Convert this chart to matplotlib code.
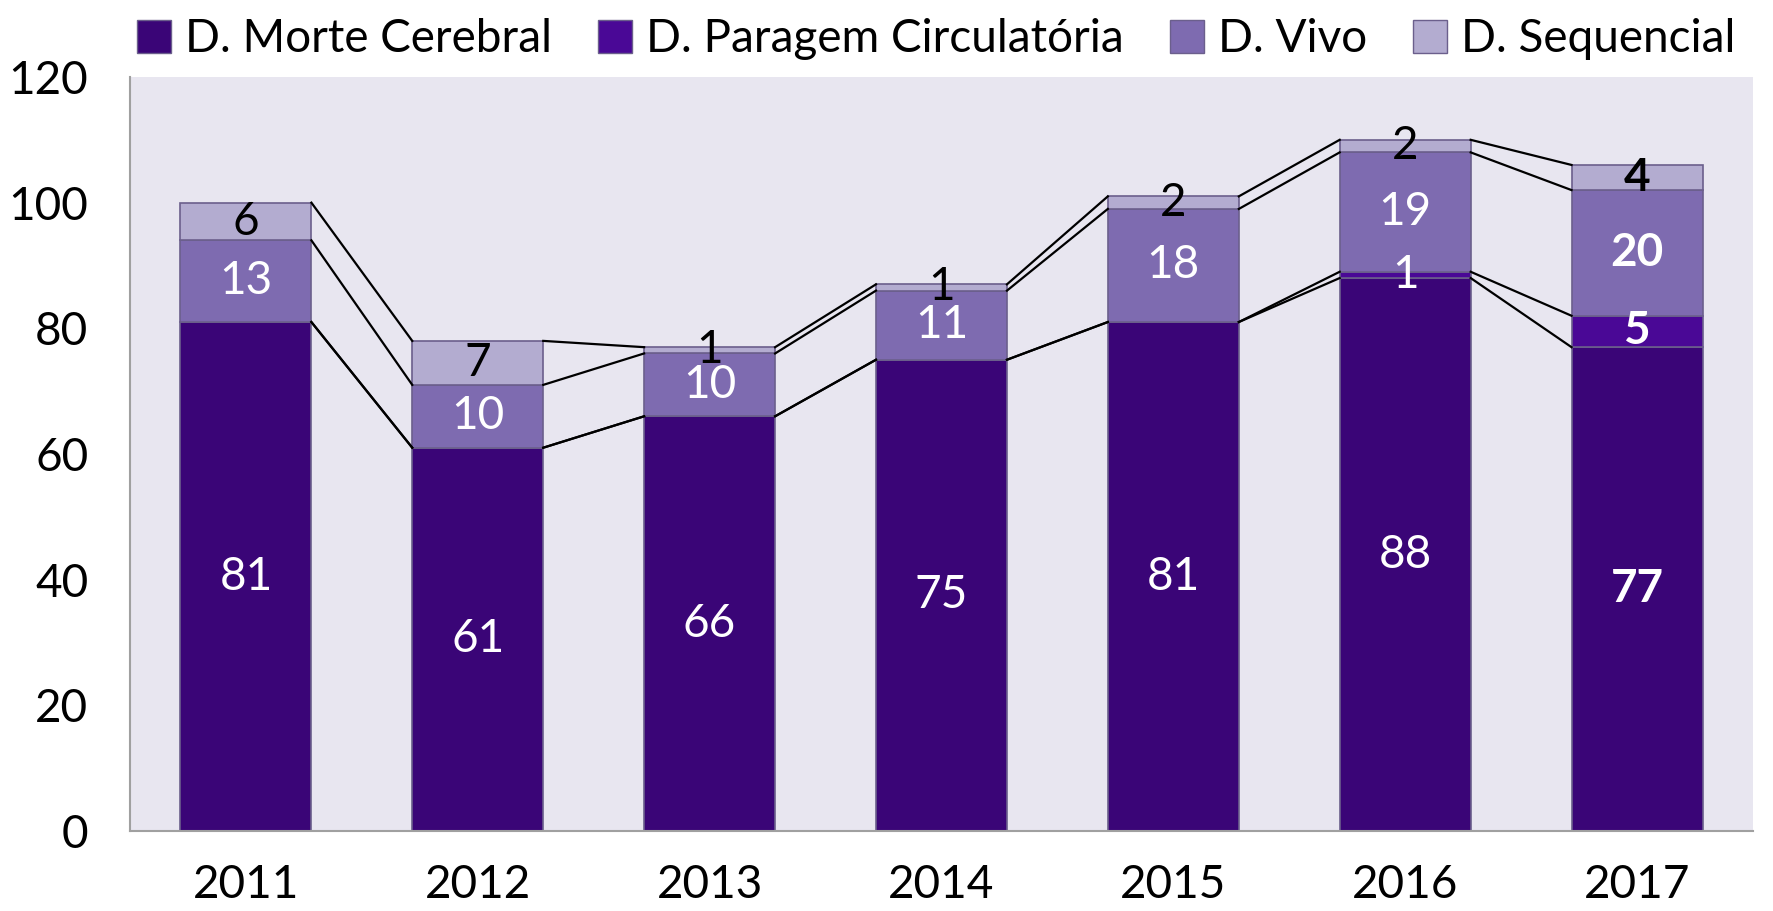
import matplotlib.pyplot as plt
import numpy as np
from matplotlib.patches import Patch

plt.rcParams['font.family'] = ['Lato', 'DejaVu Sans']

# data
years = ['2011', '2012', '2013', '2014', '2015', '2016', '2017']
morte_cerebral = [81, 61, 66, 75, 81, 88, 77]
paragem_circ = [0, 0, 0, 0, 0, 1, 5]
vivo = [13, 10, 10, 11, 18, 19, 20]
sequencial = [6, 7, 1, 1, 2, 2, 4]

series_names = ['D. Morte Cerebral', 'D. Paragem Circulatória', 'D. Vivo', 'D. Sequencial']
colors = ['#3a0577', '#4a0896', '#7e6bb0', '#b3acd0']
label_colors = ['white', 'white', 'white', 'black']

fig = plt.figure(figsize=(17.73, 9.11), dpi=100)
ax = fig.add_axes([0.0733, 0.0878, 0.9154, 0.8277])
ax.set_facecolor('#e8e6f0')

x = np.arange(len(years))
width = 0.565
data = [morte_cerebral, paragem_circ, vivo, sequencial]
bottom = np.zeros(len(years))
tops = []
for vals, c, lc in zip(data, colors, label_colors):
    vals = np.array(vals, dtype=float)
    ax.bar(x, vals, width, bottom=bottom, color=c, edgecolor='#6b5f8c',
           linewidth=1.2, zorder=2)
    for i, v in enumerate(vals):
        if v > 0:
            bold = 'bold' if years[i] == '2017' else 'normal'
            ax.text(x[i], bottom[i] + v / 2, '%d' % v, ha='center', va='center',
                    color=lc, fontsize=33, fontweight=bold, zorder=4)
    bottom = bottom + vals
    tops.append(bottom.copy())

# series lines between bars
for t in tops:
    for i in range(len(years) - 1):
        ax.plot([x[i] + width / 2, x[i + 1] - width / 2], [t[i], t[i + 1]],
                color='black', linewidth=1.6, zorder=3)

ax.set_xlim(-0.5, len(years) - 0.5)
ax.set_ylim(0, 120)
ax.set_yticks(np.arange(0, 121, 20))
ax.set_xticks(x)
ax.set_xticklabels(years)
ax.tick_params(axis='both', length=0, labelsize=33)
ax.tick_params(axis='x', pad=24)
ax.tick_params(axis='y', pad=30)
for s in ['top', 'right']:
    ax.spines[s].set_visible(False)
for s in ['left', 'bottom']:
    ax.spines[s].set_color('#a0a0a0')
    ax.spines[s].set_linewidth(1.5)

handles = [Patch(facecolor=c, edgecolor='#6b5f8c') for c in colors]
fig.legend(handles, series_names, loc='upper center', bbox_to_anchor=(0.528, 1.025),
           ncol=4, frameon=False, fontsize=33, handlelength=0.75, handleheight=0.75,
           handletextpad=0.3, columnspacing=1.0)

fig.savefig('out.png', dpi=100)
